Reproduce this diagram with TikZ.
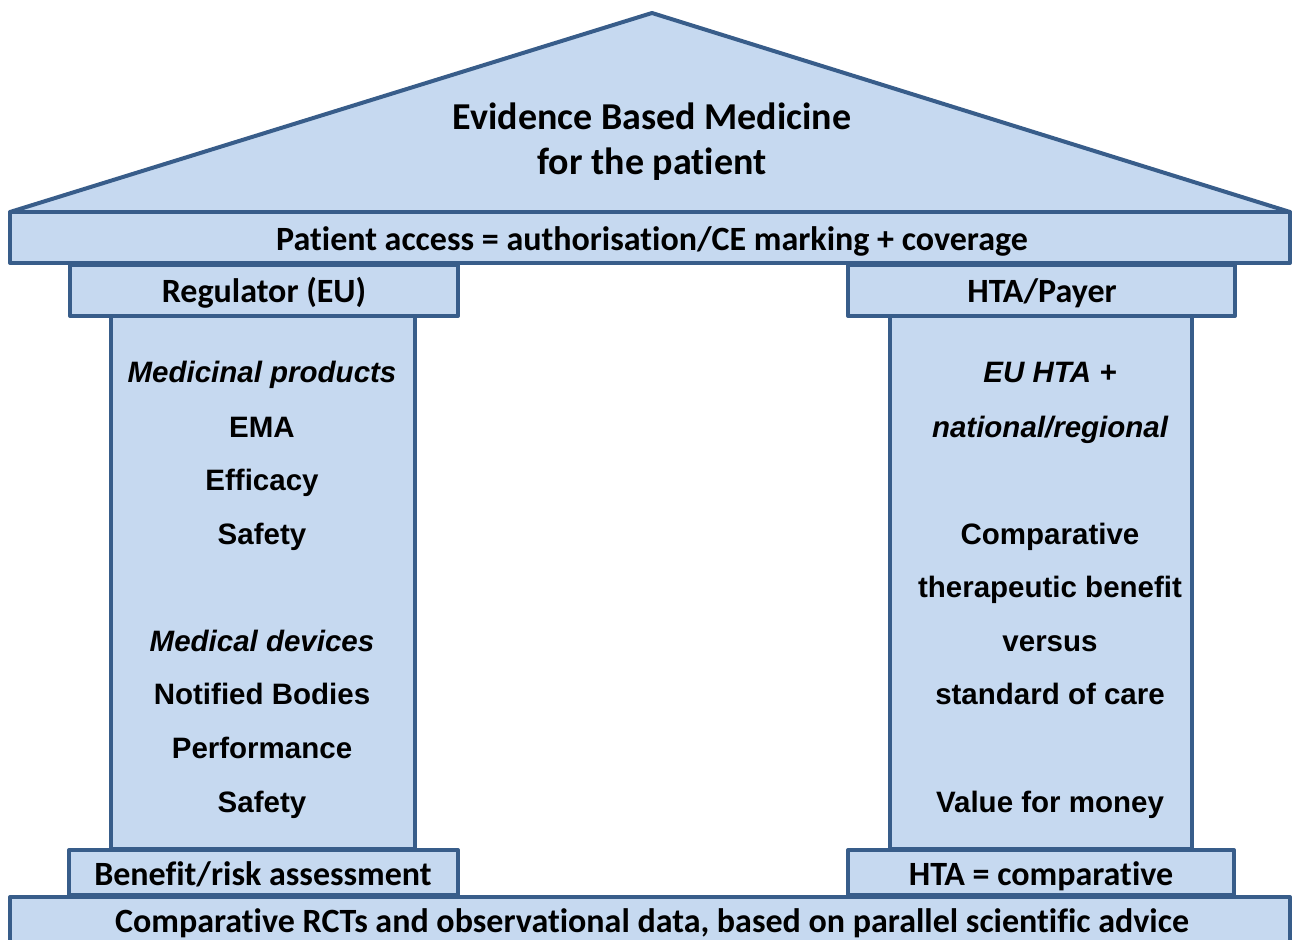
\documentclass[tikz,border=0pt]{standalone}
\usepackage{fontspec}
\setmainfont{Carlito}[Ligatures=NoCommon]
\newfontfamily\arialf{Liberation Sans}
\definecolor{pfill}{RGB}{198,217,240}
\definecolor{pline}{RGB}{56,93,138}
\begin{document}
\begin{tikzpicture}[x=1pt,y=-1pt,
  part/.style={draw=pline,fill=pfill,line width=4pt,line join=round,inner sep=0pt},
  head/.style={font=\fontsize{34}{40}\selectfont\bfseries,anchor=base,inner sep=0pt},
  title/.style={font=\fontsize{38}{45}\selectfont\bfseries,anchor=base,inner sep=0pt},
  coltxt/.style={font=\arialf\fontsize{29.5}{34}\selectfont\bfseries,anchor=base,inner sep=0pt},
  colit/.style={font=\arialf\fontsize{29.5}{34}\selectfont\bfseries\itshape,anchor=base,inner sep=0pt}]
\useasboundingbox (0,0) rectangle (1292,939);
\clip (0,0) rectangle (1292,939);
% roof
\coordinate (apex) at (652,13);
\coordinate (rl) at (10,212);
\coordinate (rr) at (1290,212);
\draw[part] (apex) -- (rr) -- (rl) -- cycle;
% columns
\node[part,minimum width=304pt,minimum height=533pt] (lcol) at (263,582.5) {};
\node[part,minimum width=302pt,minimum height=533pt] (rcol) at (1041,582.5) {};
% beam and capitals
\node[part,minimum width=1280pt,minimum height=51pt] (beam) at (650,237.5) {};
\node[part,minimum width=388pt,minimum height=51pt] (lcap) at (264,290.5) {};
\node[part,minimum width=387pt,minimum height=51pt] (rcap) at (1041.5,290.5) {};
% bases
\node[part,minimum width=389pt,minimum height=45pt] (lbase) at (263.5,872.5) {};
\node[part,minimum width=386pt,minimum height=45pt] (rbase) at (1041,872.5) {};
\node[part,minimum width=1280pt,minimum height=64pt] (found) at (650,929) {};
% texts
\node[title] (t1) at (652,130) {Evidence Based Medicine};
\node[title] (t2) at (652,174) {for the patient};
\node[head] (tbeam) at (652,250) {Patient access = authorisation/CE marking + coverage};
\node[head] (tlcap) at (264,302) {Regulator (EU)};
\node[head] (trcap) at (1042,302) {HTA/Payer};
\node[head] (tlbase) at (263,885) {Benefit/risk assessment};
\node[head] (trbase) at (1041,885) {HTA = comparative};
\node[head] (tfound) at (652,932) {Comparative RCTs and observational data, based on parallel scientific advice};
% left column text
\node[colit] (l1) at (262,382) {Medicinal products};
\node[coltxt] (l2) at (262,437) {EMA};
\node[coltxt] (l3) at (262,490) {Efficacy};
\node[coltxt] (l4) at (262,544) {Safety};
\node[colit] (l5) at (262,651) {Medical devices};
\node[coltxt] (l6) at (262,704) {Notified Bodies};
\node[coltxt] (l7) at (262,758) {Performance};
\node[coltxt] (l8) at (262,812) {Safety};
% right column text
\node[colit] (r1) at (1050,382) {EU HTA +};
\node[colit] (r2) at (1050,437) {national/regional};
\node[coltxt] (r3) at (1050,544) {Comparative};
\node[coltxt] (r4) at (1050,597) {therapeutic benefit};
\node[coltxt] (r5) at (1050,651) {versus};
\node[coltxt] (r6) at (1050,704) {standard of care};
\node[coltxt] (r7) at (1050,812) {Value for money};
\end{tikzpicture}
\end{document}
